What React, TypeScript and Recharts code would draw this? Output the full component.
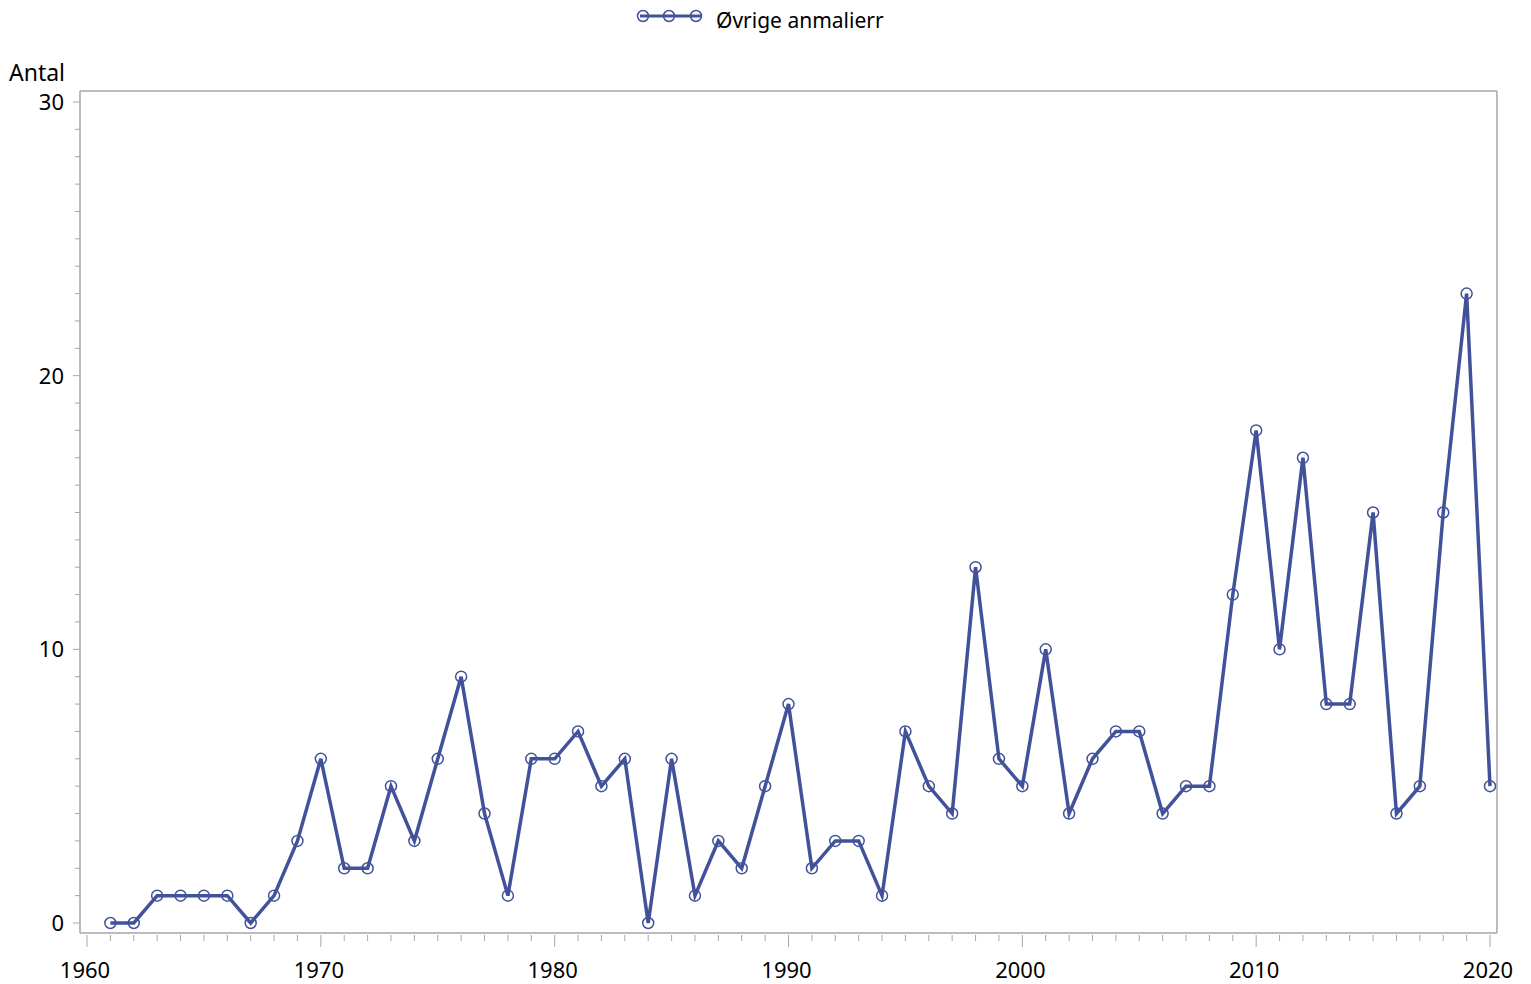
import React from "react";
import { LineChart, Line, XAxis, YAxis } from "recharts";

const years = [
  1961, 1962, 1963, 1964, 1965, 1966, 1967, 1968, 1969, 1970,
  1971, 1972, 1973, 1974, 1975, 1976, 1977, 1978, 1979, 1980,
  1981, 1982, 1983, 1984, 1985, 1986, 1987, 1988, 1989, 1990,
  1991, 1992, 1993, 1994, 1995, 1996, 1997, 1998, 1999, 2000,
  2001, 2002, 2003, 2004, 2005, 2006, 2007, 2008, 2009, 2010,
  2011, 2012, 2013, 2014, 2015, 2016, 2017, 2018, 2019, 2020,
];

const counts = [
  0, 0, 1, 1, 1, 1, 0, 1, 3, 6,
  2, 2, 5, 3, 6, 9, 4, 1, 6, 6,
  7, 5, 6, 0, 6, 1, 3, 2, 5, 8,
  2, 3, 3, 1, 7, 5, 4, 13, 6, 5,
  10, 4, 6, 7, 7, 4, 5, 5, 12, 18,
  10, 17, 8, 8, 15, 4, 5, 15, 23, 5,
];

const seriesName = "Øvrige anmalierr";
const yLabel = "Antal";

// one tick per year / per unit; labels only on the major ones
const xTicks = Array.from({ length: 61 }, (_, i) => 1960 + i);
const yTicks = Array.from({ length: 31 }, (_, i) => i);

const data = years.map((year, i) => ({ year, value: counts[i] }));

const LINE = "#42529a";
const AXIS = "#a6a6a6";
const FONT = "'Noto Sans', sans-serif";

const XTick = (props: any) => {
  const { x, y, payload } = props;
  const major = payload.value % 10 === 0;
  return (
    <g>
      <line x1={x} x2={x} y1={y + 2} y2={y + (major ? 14 : 8)} stroke={AXIS} strokeWidth={1} />
      {major && (
        <text x={x - 2} y={y + 45} textAnchor="middle" fontSize={22} fontFamily={FONT} fill="#000">
          {payload.value}
        </text>
      )}
    </g>
  );
};

const YTick = (props: any) => {
  const { x, y, payload } = props;
  const major = payload.value % 10 === 0;
  return (
    <g>
      <line x1={x} x2={x - (major ? 7 : 5)} y1={y} y2={y} stroke={AXIS} strokeWidth={1} />
      {major && (
        <text x={x - 16} y={y} dy="0.36em" textAnchor="end" fontSize={22} fontFamily={FONT} fill="#000">
          {payload.value}
        </text>
      )}
    </g>
  );
};

export default function App() {
  return (
    <div style={{ position: "absolute", left: 0, top: 0, width: 1531, height: 984, background: "#fff" }}>
      <svg width={1531} height={40} style={{ position: "absolute", left: 0, top: 0 }}>
        <line x1={640} x2={702} y1={16} y2={16} stroke={LINE} strokeWidth={3} />
        {[643, 669, 696].map((cx) => (
          <circle key={cx} cx={cx} cy={16} r={5.5} fill="none" stroke={LINE} strokeWidth={1.5} />
        ))}
        <text x={716} y={28} fontSize={21} fontFamily={FONT} fill="#000">
          {seriesName}
        </text>
      </svg>
      <LineChart
        width={1531}
        height={984}
        data={data}
        margin={{ top: 90, left: 79, right: 33, bottom: 50 }}
      >
        <XAxis
          dataKey="year"
          type="number"
          domain={[1960, 2020]}
          ticks={xTicks}
          interval={0}
          height={1}
          tickSize={0}
          tickMargin={0}
          tickLine={false}
          tick={<XTick />}
          padding={{ left: 7, right: 7 }}
          axisLine={{ stroke: AXIS, strokeWidth: 1.5 }}
        />
        <XAxis
          xAxisId="top"
          orientation="top"
          type="number"
          domain={[1960, 2020]}
          height={1}
          tick={false}
          tickLine={false}
          axisLine={{ stroke: AXIS, strokeWidth: 1.5 }}
        />
        <YAxis
          type="number"
          domain={[0, 30]}
          ticks={yTicks}
          interval={0}
          width={1}
          tickSize={0}
          tickMargin={0}
          tickLine={false}
          tick={<YTick />}
          padding={{ top: 11, bottom: 10 }}
          axisLine={{ stroke: AXIS, strokeWidth: 1.5 }}
          label={{
            content: () => (
              <text x={9} y={81} fontSize={23} fontFamily={FONT} fill="#000">
                {yLabel}
              </text>
            ),
          }}
        />
        <YAxis
          yAxisId="right"
          orientation="right"
          type="number"
          domain={[0, 30]}
          width={1}
          tick={false}
          tickLine={false}
          axisLine={{ stroke: AXIS, strokeWidth: 1.5 }}
        />
        <Line
          dataKey="value"
          name={seriesName}
          stroke={LINE}
          strokeWidth={3.5}
          dot={{ r: 5.5, fill: "none", stroke: LINE, strokeWidth: 1.5 }}
          activeDot={false}
          isAnimationActive={false}
        />
      </LineChart>
    </div>
  );
}
